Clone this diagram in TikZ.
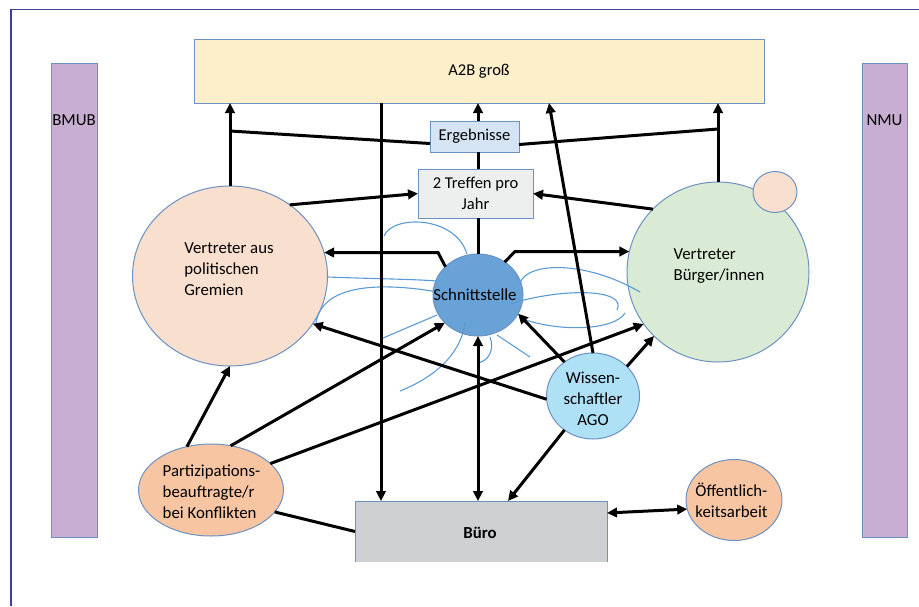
\documentclass[tikz,border=0pt]{standalone}
\usepackage{fontspec}
\setmainfont{Carlito}
\usetikzlibrary{shapes.geometric,arrows.meta,calc}
\definecolor{bordc}{HTML}{6C92C4}
\definecolor{barc}{HTML}{C8AED3}
\definecolor{a2bc}{HTML}{FDEFC9}
\definecolor{ergc}{HTML}{D5E4F5}
\definecolor{trefc}{HTML}{EDEFEF}
\definecolor{polc}{HTML}{F9DFCE}
\definecolor{buec}{HTML}{D9EBD4}
\definecolor{schc}{HTML}{69A2D7}
\definecolor{wisc}{HTML}{AEE0F6}
\definecolor{parc}{HTML}{F8C5A3}
\definecolor{bueroc}{HTML}{CED0D2}
\definecolor{fieldc}{HTML}{5B9BD5}
\definecolor{framec}{HTML}{3F3F9A}
\begin{document}
\begin{tikzpicture}[x=1pt,y=-1pt,
  bord/.style={draw=bordc, line width=1pt},
  ell/.style={ellipse, bord, inner sep=0pt, outer sep=0pt},
  box/.style={rectangle, bord, inner sep=0pt, outer sep=0pt, font=\fontsize{16.5}{21}\selectfont},
  txt/.style={inner sep=0pt, font=\fontsize{16.8}{21}\selectfont},
  conn/.style={line width=3pt, draw=black},
  arr/.style={conn, -{Triangle[length=10pt,width=9.5pt]}},
  darr/.style={conn, {Triangle[length=10pt,width=9.5pt]}-{Triangle[length=10pt,width=9.5pt]}},
  fieldl/.style={draw=fieldc, line width=1.1pt}
]
\useasboundingbox (0,0) rectangle (919,606);
\draw[draw=framec, line width=1.8pt] (11,606) -- (11,9.5) -- (919,9.5);

% bars
\node[box, fill=barc, minimum width=46pt, minimum height=474pt] (bmub) at (74,300) {};
\node[box, fill=barc, minimum width=45pt, minimum height=474pt] (nmu) at (884.5,300) {};

% boxes
\node[box, fill=a2bc, minimum width=570pt, minimum height=64pt] (a2b) at (479,71) {A2B groß};
\node[box, fill=ergc, minimum width=89pt, minimum height=31pt] (erg) at (474.5,136.5) {Ergebnisse};
\node[box, fill=trefc, minimum width=115pt, minimum height=49pt, align=center] (tref) at (475.5,193.5) {2 Treffen pro\\Jahr};

% ellipses
\node[ell, fill=polc, minimum width=195pt, minimum height=180pt] (pol) at (230,276) {};
\node[ell, fill=buec, minimum width=182pt, minimum height=180pt] (bue) at (718,272) {};
\node[ell, fill=polc, minimum width=44pt, minimum height=41pt] (sm) at (775,192) {};
\node[ell, fill=schc, minimum width=90pt, minimum height=82pt] (sch) at (478,295) {};
\node[ell, fill=wisc, minimum width=93pt, minimum height=86pt] (wis) at (593,396) {};
\node[ell, fill=parc, minimum width=145pt, minimum height=92pt] (par) at (211,490) {};
\node[ell, fill=parc, minimum width=96pt, minimum height=81pt] (oef) at (734,500) {};

% Buero
\node[rectangle, fill=bueroc, minimum width=252pt, minimum height=61pt, inner sep=0pt, outer sep=0pt] (buero) at (481,531.5) {};
\draw[bord] (buero.south west) -- (buero.north west) -- (buero.north east) -- (buero.south east);

% field lines
\draw[fieldl] (384,236) .. controls (392,215) and (455,215) .. (467,254);
\draw[fieldl] (328,277) .. controls (380,279) and (410,279) .. (437,281);
\draw[fieldl] (438,292) .. controls (380,282) and (322,284) .. (316,323);
\draw[fieldl] (383,338) -- (437,315);
\draw[fieldl] (400,391) .. controls (440,375) and (462,350) .. (465,322);
\draw[fieldl] (490,337) .. controls (495,350) and (488,362) .. (477,363);
\draw[fieldl] (497,335) -- (530,357);
\draw[fieldl] (520,283) .. controls (527,262) and (585,260) .. (640,292);
\draw[fieldl] (510,304) .. controls (560,288) and (628,288) .. (617,310);
\draw[fieldl] (520,318) .. controls (560,333) and (615,330) .. (625,313);

% connectors
\coordinate (jl) at (230,131);
\coordinate (jr) at (718,129);
\coordinate (va) at (381,0);
\coordinate (vb) at (549,0);
\coordinate (e1) at (438,252.5);
\coordinate (e2) at (515,251.5);

\draw[arr] (pol.north) -- (pol.north |- a2b.south);
\draw[conn] (jl) -- ([yshift=-7pt]erg.west);
\draw[conn] ([yshift=-8pt]erg.east) -- (jr);
\draw[arr] (bue.north) -- (bue.north |- a2b.south);
\draw[conn] (sch.north) -- (sch.north |- tref.south);
\draw[conn] (sch.north |- tref.north) -- (sch.north |- erg.south);
\draw[arr] (sch.north |- erg.north) -- (sch.north |- a2b.south);
\draw[arr] (pol.50) -- (tref.west);
\draw[arr] (bue.136) -- (tref.east);
\draw[arr] (a2b.south -| va) -- (buero.north -| va);
\draw[arr] (wis.north) -- (a2b.south -| vb);
\draw[arr] (sch.139) -- (e1) -- (pol.14);
\draw[arr] (sch.51) -- (e2) -- (bue.167);
\draw[arr] (wis.184) -- (pol.-30);
\draw[arr] (wis.130) -- (sch.-25);
\draw[arr] (wis.41) -- (bue.225);
\draw[arr] (wis.230) -- ([xshift=27pt]buero.north);
\draw[darr] (sch.south) -- (sch.south |- buero.north);
\draw[arr] (par.119) -- (pol.south);
\draw[arr] (par.66) -- (sch.220);
\draw[arr] (par.24) -- (bue.215);
\draw[conn] (par.341) -- (buero.west);
\draw[darr] ([yshift=18.5pt]buero.east) -- (oef.191);

% texts
\node[txt] (bmubt) at (74,120) {BMUB};
\node[txt] (nmut) at (884.5,120) {NMU};
\node[txt, align=left] (polt) at (229,269) {Vertreter aus\\politischen\\Gremien};
\node[txt, align=left] (buet) at (719,266.5) {Vertreter\\Bürger/innen};
\node[txt] (scht) at (475,295) {Schnittstelle};
\node[txt, align=center] (wist) at (593,399) {Wissen-\\schaftler\\AGO};
\node[txt, align=left] (part) at (211.5,492) {Partizipations-\\beauftragte/r\\bei Konflikten};
\node[txt, align=left] (oeft) at (731.5,500.5) {Öffentlich-\\keitsarbeit};
\node[txt, font=\fontsize{16.8}{21}\selectfont\bfseries] (buerot) at (480,533) {Büro};
\end{tikzpicture}
\end{document}
